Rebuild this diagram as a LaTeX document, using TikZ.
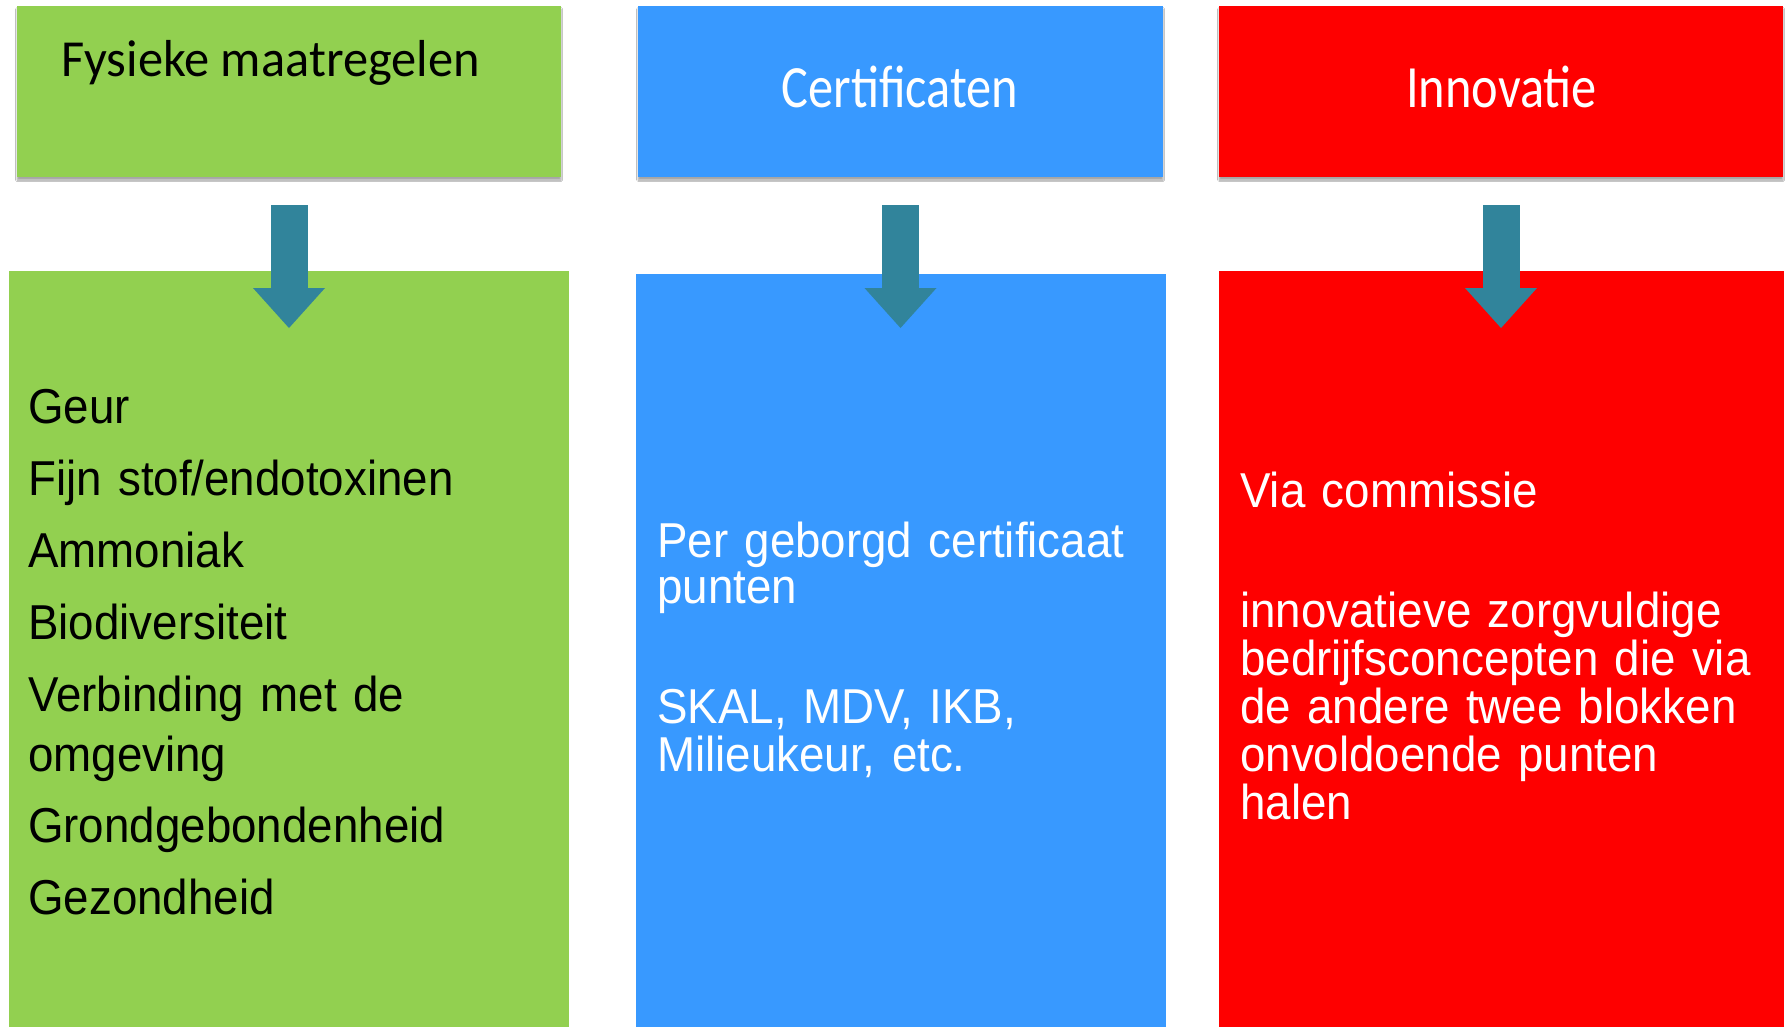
\documentclass[tikz,border=0pt]{standalone}
\usepackage{fontspec}
\setmainfont{Liberation Sans}
\newfontfamily\bodyfont[FakeStretch=0.933,WordSpace={0.75,0,0}]{Liberation Sans}
\newfontfamily\capfont[FakeStretch=0.84]{Carlito}
\newfontfamily\capfontA[FakeStretch=0.97]{Carlito}
\usetikzlibrary{arrows.meta,shadows.blur}
\definecolor{cgreen}{HTML}{92D050}
\definecolor{cblue}{HTML}{3899FF}
\definecolor{cred}{HTML}{FE0000}
\definecolor{carrow}{HTML}{31849B}
\tikzset{
  box/.style={rectangle, draw=none, inner sep=0pt, outer sep=0pt},
  topbox/.style={box, minimum height=171pt,
    blur shadow={shadow xshift=0pt, shadow yshift=-3pt, shadow blur radius=1.5pt, shadow opacity=35}},
  lowbox/.style={box},
  blockarr/.style={carrow, line width=37pt,
    -{Triangle[width=72pt,length=40pt,line width=0pt]}},
  bodytxt/.style={anchor=base west, inner sep=0pt, text width=520pt, align=left,
    font=\bodyfont\fontsize{49}{48}\selectfont},
  captxt/.style={anchor=base, inner sep=0pt, font=\capfont\fontsize{60}{60}\selectfont}
}
\begin{document}
\begin{tikzpicture}[x=1pt,y=-1pt]
\fill[white] (0,0) rectangle (1787,1026);
\useasboundingbox (0,0) rectangle (1787,1026);

% top boxes
\node[topbox, fill=cgreen, minimum width=544pt] (gt) at (289,91.5) {};
\node[topbox, fill=cblue,  minimum width=525pt] (bt) at (900.5,91.5) {};
\node[topbox, fill=cred,   minimum width=564pt] (rt) at (1501,91.5) {};

% bottom boxes
\node[lowbox, fill=cgreen, minimum width=560pt, minimum height=762pt] (gb) at (289,652) {};
\node[lowbox, fill=cblue,  minimum width=530pt, minimum height=759pt] (bb) at (901,653.5) {};
\node[lowbox, fill=cred,   minimum width=565pt, minimum height=762pt] (rb) at (1501.7,652) {};

% titles
\node[anchor=base west, inner sep=0pt, font=\capfontA\fontsize{52}{52}\selectfont] (gtt) at (61,76) {Fysieke maatregelen};
\node[captxt, text=white] (btt) at (900,107) {Certificaten};
\node[captxt, text=white] (rtt) at (1501.5,107) {Innovatie};

% arrows
\draw[blockarr, shorten <=28pt, shorten >=-57pt] (gt.south) -- (gt.south |- gb.north);
\draw[blockarr, shorten <=28pt, shorten >=-54pt] (bt.south) -- (bt.south |- bb.north);
\draw[blockarr, shorten <=28pt, shorten >=-57pt] (rt.south) -- (rt.south |- rb.north);

% green list
\node[bodytxt, font=\bodyfont\fontsize{49}{60}\selectfont] (glist) at (28,423)
  {Geur\\[12pt]
   Fijn stof/endotoxinen\\[12pt]
   Ammoniak\\[12pt]
   Biodiversiteit\\[12pt]
   Verbinding met de\\
   omgeving\\[11pt]
   Grondgebondenheid\\[12pt]
   Gezondheid};

% blue text
\node[bodytxt, text=white, font=\bodyfont\fontsize{49}{46}\selectfont] (btx1) at (657,557)
  {Per geborgd certificaat\\punten};
\node[bodytxt, text=white] (btx2) at (657,723)
  {SKAL, MDV, IKB,\\Milieukeur, etc.};

% red text
\node[bodytxt, text=white] (rtx1) at (1240,507) {Via commissie};
\node[bodytxt, text=white] (rtx2) at (1240,627)
  {innovatieve zorgvuldige\\
   bedrijfsconcepten die via\\
   de andere twee blokken\\
   onvoldoende punten\\
   halen};
\end{tikzpicture}
\end{document}
